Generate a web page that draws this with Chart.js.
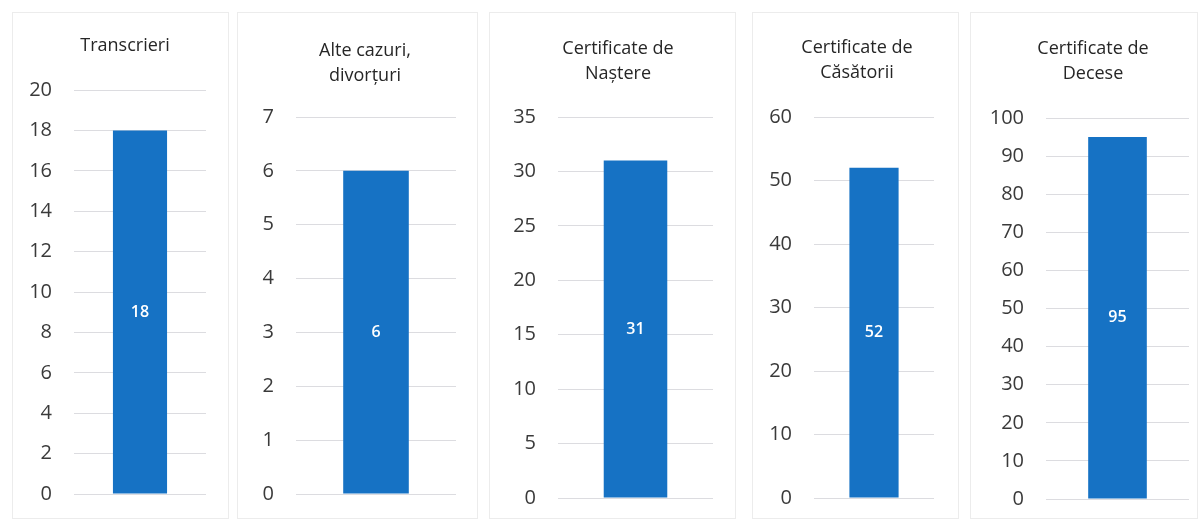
<!DOCTYPE html>
<html>
<head>
<meta charset="utf-8">
<script src="https://cdn.jsdelivr.net/npm/chart.js@4/dist/chart.umd.min.js"></script>
<style>
  html, body { margin: 0; padding: 0; background: #ffffff; }
  body { width: 1202px; height: 519px; position: relative; overflow: hidden; }
  .panel { position: absolute; box-sizing: border-box; border: 1px solid #ececec; background: #fff; }
  .panel canvas { position: absolute; left: 0; top: 0; }
</style>
</head>
<body>
<div id="wrap"></div>
<script>
// ---- data ----
const titles = [
  ["Transcrieri"],
  ["Alte cazuri,", "divorțuri"],
  ["Certificate de", "Naștere"],
  ["Certificate de", "Căsătorii"],
  ["Certificate de", "Decese"]
];
const values = [18, 6, 31, 52, 95];
const axisMax = [20, 7, 35, 60, 100];
const axisStep = [2, 1, 5, 10, 10];

// ---- layout (pixels, relative to each panel's canvas) ----
const panelLeft  = [12, 237, 489, 752, 970];
const panelWidth = [217, 241, 247, 207, 228];
const panelTop = 12, panelHeight = 507;
const titleCenterX = [112, 127, 128, 104, 122];
const titleCenterY = [33, 38, 36, 35, 36];
const plotTop    = [77, 104, 104, 104, 105];
const plotBottom = [481, 481, 485, 485, 486];
const plotLeft   = [61, 58, 68, 61, 75];
const plotRight  = [193, 218, 223, 181, 218];

const FONT = "'Open Sans', 'Noto Sans', sans-serif";
const BAR = '#1672c4';
const titleSize = 18, titleLH = 1.4;
const tickGap = 22;

const valueLabels = {
  id: 'valueLabels',
  afterDatasetsDraw(chart) {
    const ctx = chart.ctx;
    chart.data.datasets.forEach((ds, di) => {
      const meta = chart.getDatasetMeta(di);
      meta.data.forEach((el, i) => {
        const yMid = (el.y + el.base) / 2;
        ctx.save();
        ctx.font = "600 16px " + FONT;
        ctx.fillStyle = '#ffffff';
        ctx.textAlign = 'center';
        ctx.textBaseline = 'middle';
        ctx.fillText(String(ds.data[i]), el.x, yMid);
        ctx.restore();
      });
    });
  }
};

const wrap = document.getElementById('wrap');
titles.forEach((t, i) => {
  const div = document.createElement('div');
  div.className = 'panel';
  div.style.left = panelLeft[i] + 'px';
  div.style.top = panelTop + 'px';
  div.style.width = panelWidth[i] + 'px';
  div.style.height = panelHeight + 'px';
  const cv = document.createElement('canvas');
  const w = panelWidth[i] - 2, h = panelHeight - 2;
  cv.width = w; cv.height = h;
  cv.style.width = w + 'px'; cv.style.height = h + 'px';
  div.appendChild(cv);
  wrap.appendChild(div);

  const lh = titleSize * titleLH;
  const tPadTop = titleCenterY[i] - lh / 2;
  const tPadBottom = plotTop[i] - (tPadTop + t.length * lh);
  const shift = 2 * titleCenterX[i] - w;
  const padLeft = Math.max(0, shift);
  const padRight = Math.max(0, -shift);
  const yAxisW = plotLeft[i] - padLeft;
  const rightW = w - plotRight[i] - padRight;

  new Chart(cv, {
    type: 'bar',
    data: {
      labels: [t.join(' ')],
      datasets: [{
        data: [values[i]],
        backgroundColor: BAR,
        borderWidth: 0,
        categoryPercentage: 1,
        barPercentage: 0.41,
        yAxisID: 'y'
      }]
    },
    options: {
      responsive: false,
      animation: false,
      devicePixelRatio: 1,
      layout: { padding: { left: padLeft, top: 0, right: padRight, bottom: h - plotBottom[i] } },
      plugins: {
        legend: { display: false },
        tooltip: { enabled: false },
        title: {
          display: true,
          text: t,
          color: '#262626',
          font: { family: FONT, size: titleSize, weight: 'normal', lineHeight: titleLH },
          padding: { top: tPadTop, bottom: tPadBottom }
        }
      },
      scales: {
        x: { display: false },
        y: {
          position: 'left',
          min: 0,
          max: axisMax[i],
          afterFit(scale) { scale.width = yAxisW; },
          border: { display: false },
          grid: { color: '#dcdce0', lineWidth: 1, drawTicks: true, tickLength: tickGap, tickColor: 'rgba(0,0,0,0)' },
          ticks: {
            stepSize: axisStep[i],
            padding: 0,
            color: '#3a3a3a',
            font: { family: FONT, size: 20 }
          }
        },
        yRight: {
          type: 'linear',
          position: 'right',
          min: 0,
          max: axisMax[i],
          afterFit(scale) { scale.width = rightW; },
          border: { display: false },
          grid: { display: false, drawTicks: false },
          ticks: { display: false }
        }
      }
    },
    plugins: [valueLabels]
  });
});
</script>
</body>
</html>
